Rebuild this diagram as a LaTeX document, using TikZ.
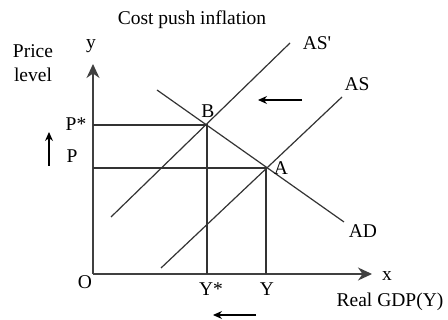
\documentclass[tikz,border=0pt]{standalone}
\usepackage{fontspec}
\setmainfont{Liberation Serif}
\usetikzlibrary{arrows.meta}
\begin{document}
\begin{tikzpicture}[x=1pt,y=-1pt,
  ln/.style={line width=1.2pt,draw=black!80},
  ax/.style={line width=1.2pt,draw=black!75,-{Stealth[length=14pt,width=13pt]}},
  sh/.style={line width=1.2pt,draw=black,-{Stealth[length=9pt,width=8pt]}},
  lbl/.style={inner sep=0pt,font=\fontsize{19.5}{22}\selectfont}]
\useasboundingbox (0,0) rectangle (448,320);
\fill[white] (0,0) rectangle (448,320);
% key points
\coordinate (O) at (93,274);
\coordinate (ytop) at (93,64);
\coordinate (xend) at (372,274);
\coordinate (B) at (207,125);
\coordinate (A) at (266,168);
\coordinate (Bx) at (207,274);
\coordinate (Ax) at (266,274);
\coordinate (By) at (93,125);
\coordinate (Ay) at (93,168);
\coordinate (AD1) at (157,90);
\coordinate (AD2) at (344,222);
\coordinate (ASp1) at (111,217);
\coordinate (ASp2) at (290,43);
\coordinate (AS1) at (161,268);
\coordinate (AS2) at (342,97);
% axes
\draw[ax] (O) -- (ytop);
\draw[ax] (O) -- (xend);
% guide lines
\draw[ln] (By) -- (B) -- (Bx);
\draw[ln] (Ay) -- (A) -- (Ax);
% curves
\draw[ln] (AD1) -- (AD2);
\draw[ln] (ASp1) -- (ASp2);
\draw[ln] (AS1) -- (AS2);
% shift arrows
\coordinate (s1a) at (302,100); \coordinate (s1b) at (258,100);
\draw[sh] (s1a) -- (s1b);
\coordinate (s2a) at (256,315); \coordinate (s2b) at (213,315);
\draw[sh] (s2a) -- (s2b);
\coordinate (s3a) at (49,166); \coordinate (s3b) at (49,132);
\draw[sh] (s3a) -- (s3b);
% labels
\node[lbl] (title) at (192,20) {Cost push inflation};
\node[lbl] (price) at (33,51) {Price};
\node[lbl] (level) at (33,75) {level};
\node[lbl] (ylab) at (91,46) {y};
\node[lbl] (xlab) at (387,276) {x};
\node[lbl] (gdp) at (390,302) {Real GDP(Y)};
\node[lbl] (olab) at (85,282) {O};
\node[lbl] (pstar) at (76,124) {P*};
\node[lbl] (plab) at (72,156) {P};
\node[lbl] (ystar) at (211,289) {Y*};
\node[lbl] (ylab2) at (267,289) {Y};
\node[lbl] (blab) at (208,111) {B};
\node[lbl] (alab) at (281,168) {A};
\node[lbl] (aspl) at (317,43) {AS\textquotesingle};
\node[lbl] (asl) at (357,84) {AS};
\node[lbl] (adl) at (363,231) {AD};
\end{tikzpicture}
\end{document}
